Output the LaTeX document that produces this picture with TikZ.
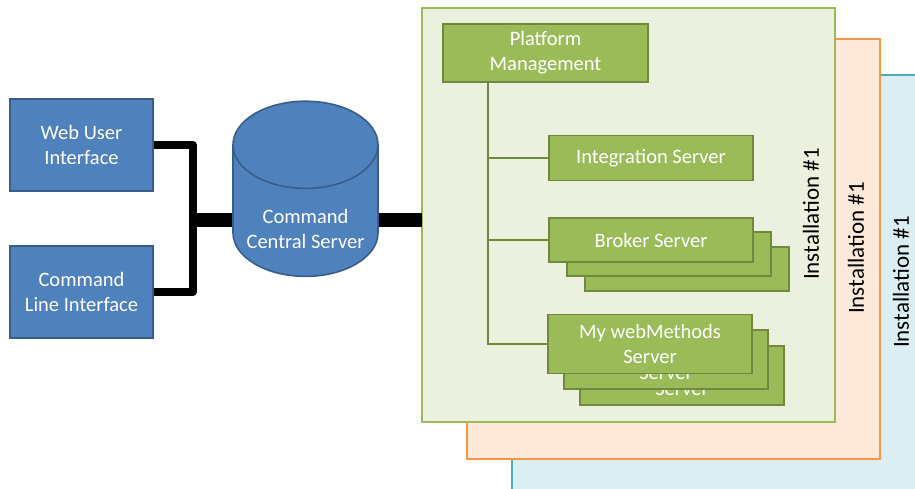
\documentclass[tikz,border=0pt]{standalone}
\usepackage{fontspec}
\setmainfont{Carlito}
\usetikzlibrary{shapes.geometric}
\definecolor{boxBlue}{HTML}{4F81BD}
\definecolor{lineBlue}{HTML}{385D8A}
\definecolor{boxGreen}{HTML}{9BBB59}
\definecolor{lineGreen}{HTML}{71893F}
\definecolor{bgGreen}{HTML}{EBF1DE}
\definecolor{bgOrange}{HTML}{FDE9D9}
\definecolor{lineOrange}{HTML}{F79646}
\definecolor{bgBlue}{HTML}{DBEEF3}
\definecolor{lineCyan}{HTML}{4BACC6}
\newcommand{\serverBox}[5]{%%
  %% One server box: name, centre x, centre y, height, text.
  \node[greenBox,minimum height=#4] (#1) at (#2,#3) {#5};
}
\newcommand{\installLabel}[3]{%%
  \node[labelStyle] (#1) at (#2,#3) {Installation \#1};
}

\begin{document}
\begin{tikzpicture}[x=1pt,y=-1pt,%%
  blueBox/.style={draw=lineBlue,line width=1.6pt,fill=boxBlue,text=white,align=center,
    minimum width=143pt,minimum height=92pt,font=\fontsize{20.5}{25}\selectfont},%%
  greenBox/.style={draw=lineGreen,line width=1.6pt,fill=boxGreen,text=white,align=center,
    minimum width=204pt,font=\fontsize{20.5}{25}\selectfont},%%
  linkStyle/.style={line width=8pt,line join=round},%%
  hubStyle/.style={line width=14pt},%%
  treeStyle/.style={draw=lineGreen,line width=1.8pt},%%
  labelStyle/.style={rotate=90,font=\fontsize{23}{27}\selectfont}%%
]
\clip (0,0) rectangle (915,488);
\useasboundingbox (0,0) rectangle (915,488);
%%
%% The three installations, back to front.
\draw[draw=lineCyan,line width=2pt,fill=bgBlue] (512,75) rectangle (930,500);
\draw[draw=lineOrange,line width=2pt,fill=bgOrange] (467,39) rectangle (880,459);
\draw[draw=boxGreen,line width=2pt,fill=bgGreen] (422,8) rectangle (835,422);
\coordinate (installEdge) at (422,220);
\installLabel{labelBlue}{901}{282}
\installLabel{labelOrange}{856}{248}
\installLabel{labelGreen}{811}{214}
%%
%% The clients.
\node[blueBox] (webUi) at (81.5,145) {Web User\\Interface};
\node[blueBox] (cmdLine) at (81.5,292) {Command\\Line Interface};
%% The central server.
\node[cylinder,shape border rotate=90,aspect=0.7,draw=lineBlue,line width=1.6pt,
  fill=boxBlue,text=white,minimum width=145pt,minimum height=151pt,
  font=\fontsize{20.5}{25}\selectfont] (ccServer) at (305.5,217.5)
  {\raisebox{-13pt}[\height][\depth]{\tabcolsep=0pt\begin{tabular}{c}Command\\Central Server\end{tabular}}};
\coordinate (hub) at (193,220);
%%
%% The connections.
\draw[linkStyle] (webUi.east) -| (hub) |- (cmdLine.east);
\draw[hubStyle] (hub) -- (hub -| ccServer.west);
\draw[hubStyle] (hub -| ccServer.east) -- (installEdge);
%%
%% Inside the installation.
\node[greenBox,minimum width=205pt,minimum height=58pt] (platformMgmt) at (545.5,53) {Platform\\Management};
\coordinate (treeTop) at (488,81);
\serverBox{brokerThree}{687}{269}{44pt}{Broker Server}
\serverBox{brokerTwo}{669}{254}{44pt}{Broker Server}
\serverBox{mwsThree}{682}{375.5}{59pt}{My webMethods\\Server}
\serverBox{mwsTwo}{666}{359.5}{59pt}{My webMethods\\Server}
\serverBox{integrationServer}{651}{158}{45pt}{Integration Server}
\serverBox{brokerServer}{651}{240}{44pt}{Broker Server}
\draw[treeStyle] (treeTop) |- (integrationServer.west);
\draw[treeStyle] (treeTop |- brokerServer.west) -- (brokerServer.west);
\draw[treeStyle] (treeTop) |- (650,344);
\serverBox{mwsServer}{650}{344}{59pt}{My webMethods\\Server}
\end{tikzpicture}
\end{document}
